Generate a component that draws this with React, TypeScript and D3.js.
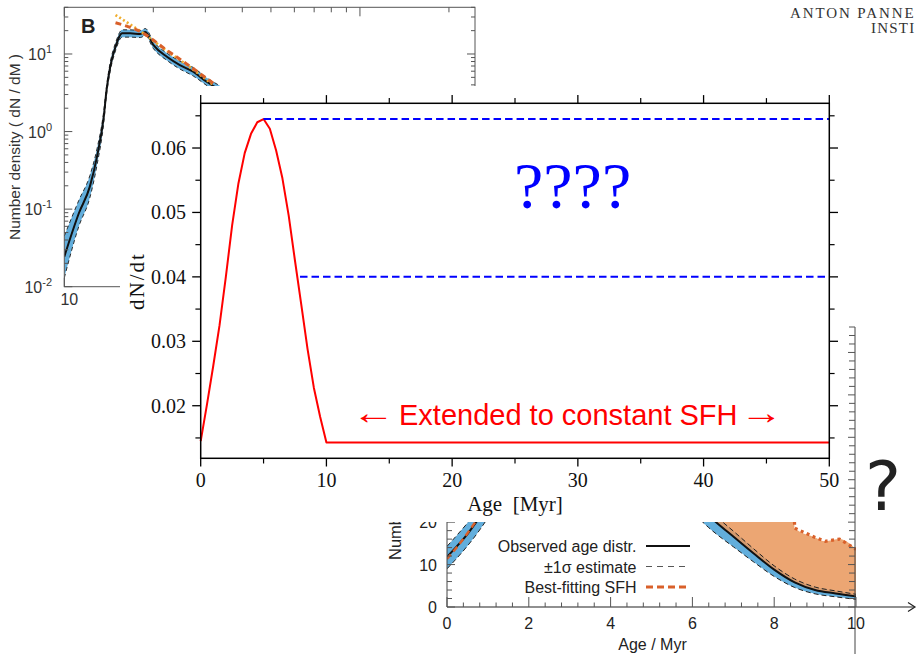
import React from "react";
import * as d3 from "d3";

// ---------------- Main chart (SFH sketch) ----------------
const sfhAges = [0, 0.5, 1, 1.5, 2, 2.5, 3, 3.5, 4, 4.5, 5, 5.5, 6, 6.5, 7, 7.5, 8, 8.5, 9, 9.5, 10, 50];
const sfhRates = [0.0145, 0.0202, 0.0262, 0.0325, 0.04, 0.048, 0.0545, 0.0592, 0.0622, 0.064, 0.0645, 0.063, 0.0596, 0.0553, 0.0495, 0.0425, 0.0357, 0.0288, 0.0228, 0.0183, 0.0143, 0.0143];
const guessStartAges = [5, 7.9];
const guessEndAges = [50, 50];
const guessRates = [0.0645, 0.04];
const ageTicks = [0, 10, 20, 30, 40, 50];
const ageMinorTicks = [5, 15, 25, 35, 45];
const rateTicks = [0.02, 0.03, 0.04, 0.05, 0.06];
const rateMinorTicks = [0.015, 0.025, 0.035, 0.045, 0.055, 0.065];

// ---------------- Background panel B (mass function) ----------------
const massValues = [10, 11.2, 12.2, 12.9, 13.6, 13.9, 14.3, 14.9, 15.7, 16.7, 18.1, 18.8, 20.0, 22.3, 24.6, 27.3, 30.4, 33.6];
const densityObs = [0.0244, 0.0885, 0.195, 0.475, 1.56, 3.44, 6.86, 12.4, 18.5, 18.5, 18.1, 19.2, 13.1, 9.15, 7.2, 5.9, 4.35, 3.44];
const densityLow = [0.013, 0.06, 0.14, 0.37, 1.3, 3.0, 6.0, 11.0, 16.5, 16.5, 16.3, 17.3, 11.8, 8.2, 6.4, 5.2, 3.9, 3.0];
const densityHigh = [0.045, 0.13, 0.27, 0.6, 1.85, 3.9, 7.8, 13.9, 20.5, 20.5, 20.1, 21.3, 14.6, 10.2, 8.1, 6.7, 4.9, 3.9];
const fitGoldMass = [14.9, 18.5, 22, 26, 31.9];
const fitGoldDensity = [31.8, 18.5, 11.3, 7.2, 4.0];
const fitRedMass = [14.9, 18.5, 22, 26, 31.9];
const fitRedDensity = [25.3, 18.5, 11.5, 7.4, 4.2];
const tlYLabels = [
  { v: 10, exp: "1" },
  { v: 1, exp: "0" },
  { v: 0.1, exp: "-1" },
  { v: 0.01, exp: "-2" },
];

// ---------------- Background panel (age distribution) ----------------
const brAgesLeft = [0, 0.25, 0.5, 0.75, 1.0];
const brObsLeft = [11.8, 14.4, 17.2, 20.5, 24];
const brLowLeft = [9.0, 11.6, 14.4, 17.5, 21];
const brHighLeft = [14.3, 17.0, 19.8, 23.0, 26.5];
const brFitLeft = [11.3, 14.2, 17.4, 20.8, 24.4];
const brAgesRight = [6.2, 6.4, 6.6, 7.0, 7.5, 8.0, 8.5, 9.0, 9.5, 10.0];
const brObsRight = [23.5, 21.5, 19.8, 16.6, 12.6, 8.8, 5.8, 4.0, 3.2, 2.5];
const brLowRight = [20.5, 18.7, 17.1, 14.2, 10.6, 7.2, 4.6, 3.1, 2.4, 1.8];
const brHighRight = [25.2, 23.0, 21.2, 17.9, 13.7, 9.7, 6.6, 4.7, 3.8, 3.0];
const brFillAges = [6.4, 6.6, 7.0, 7.5, 8.0, 8.45, 8.5, 9.0, 9.25, 9.6, 10.0];
const brFillLow = [21.5, 19.8, 16.6, 12.6, 8.8, 6.0, 5.8, 4.0, 3.6, 3.1, 2.5];
const brFillHigh = [40, 40, 40, 40, 40, 40, 18.6, 16.4, 15.5, 16.0, 13.6];
const brXTickLabels = [0, 2, 4, 6, 8, 10];
const brYTickLabels = [0, 10, 20];
const legendLabels = ["Observed age distr.", "\u00b11\u03c3 estimate", "Best-fitting SFH"];

const SERIF = '"Liberation Serif", "Times New Roman", serif';
const SANS = '"Liberation Sans", Arial, Helvetica, sans-serif';

export default function App() {
  // ---- scales
  const x = d3.scaleLinear().domain([0, 50]).range([200.7, 829.3]);
  const y = d3.scaleLinear().domain([0.01184, 0.06694]).range([458.3, 103.3]);
  const xTL = d3.scaleLog().domain([10, 245]).range([64.3, 475]);
  const yTL = d3.scaleLog().domain([0.01, 40]).range([286.7, 7.3]);
  const xBR = d3.scaleLinear().domain([0, 10]).range([447, 856]);
  const yBR = d3.scaleLinear().domain([0, 66]).range([607, 327]);

  // ---- main shapes
  const sfhLine = d3
    .line<number>()
    .x((_, i) => x(sfhAges[i]))
    .y((d) => y(d))(sfhRates) as string;

  // ---- panel B shapes
  const tlBand = d3
    .area<number>()
    .curve(d3.curveMonotoneX)
    .x((_, i) => xTL(massValues[i]))
    .y0((_, i) => yTL(densityLow[i]))
    .y1((_, i) => yTL(densityHigh[i]))(massValues) as string;
  const mkTL = (xs: number[], ys: number[]) =>
    d3
      .line<number>()
      .curve(d3.curveMonotoneX)
      .x((_, i) => xTL(xs[i]))
      .y((d) => yTL(d))(ys) as string;
  const tlYTicks: { v: number; major: boolean }[] = [];
  [-2, -1, 0, 1].forEach((dd) => {
    for (let k = 1; k <= 9; k++) {
      const v = k * Math.pow(10, dd);
      if (v <= 40) tlYTicks.push({ v, major: k === 1 });
    }
  });
  const tlXTicks: { v: number; major: boolean }[] = [];
  [1, 2].forEach((dd) => {
    for (let k = 1; k <= 9; k++) {
      const v = k * Math.pow(10, dd);
      if (v <= 245) tlXTicks.push({ v, major: k === 1 });
    }
  });

  // ---- age-distribution panel shapes
  const brArea = (xs: number[], lo: number[], hi: number[]) =>
    d3
      .area<number>()
      .curve(d3.curveMonotoneX)
      .x((_, i) => xBR(xs[i]))
      .y0((_, i) => yBR(lo[i]))
      .y1((_, i) => yBR(hi[i]))(xs) as string;
  const brLine = (xs: number[], ys: number[], curve = true) =>
    d3
      .line<number>()
      .curve(curve ? d3.curveMonotoneX : d3.curveLinear)
      .x((_, i) => xBR(xs[i]))
      .y((d) => yBR(d))(ys) as string;
  const brXTicks = d3.range(0, 10.0001, 0.4);
  const brYTicks = d3.range(0, 66.001, 2);
  const dottedStart = brFillAges.findIndex((a) => a >= 8.45);
  const fillEdgeAges = brFillAges.slice(dottedStart);
  const fillEdgeVals = brFillHigh.slice(dottedStart);

  return (
    <svg
      width={917}
      height={654}
      viewBox="0 0 917 654"
      style={{ position: "absolute", left: 0, top: 0, background: "#fff" }}
    >
      <defs>
        <clipPath id="clipTL">
          <rect x={64.3} y={7.3} width={410.7} height={279.4} />
        </clipPath>
        <clipPath id="clipBR">
          <rect x={447} y={327} width={409} height={280} />
        </clipPath>
      </defs>
      <rect x={0} y={0} width={917} height={654} fill="#fff" />

      {/* ================= Panel B (background) ================= */}
      <g>
        <g clipPath="url(#clipTL)">
          <path d={tlBand} fill="#62aedc" />
          <path d={mkTL(massValues, densityLow)} fill="none" stroke="#1a1a1a" strokeWidth={0.9} strokeDasharray="4,3" />
          <path d={mkTL(massValues, densityHigh)} fill="none" stroke="#1a1a1a" strokeWidth={0.9} strokeDasharray="4,3" />
          <path d={mkTL(massValues, densityObs)} fill="none" stroke="#111" strokeWidth={2} />
          <path d={mkTL(fitGoldMass, fitGoldDensity)} fill="none" stroke="#f0ad2c" strokeWidth={2.6} strokeDasharray="2,2.5" />
          <path d={mkTL(fitRedMass, fitRedDensity)} fill="none" stroke="#d9602a" strokeWidth={3} strokeDasharray="6,4" />
        </g>
        <rect x={64.3} y={7.3} width={410.7} height={279.4} fill="none" stroke="#555" strokeWidth={1} />
        {tlYTicks.map((t, i) => (
          <g key={"tly" + i} stroke="#555" strokeWidth={1}>
            <line x1={64.3} x2={64.3 + (t.major ? 8 : 4)} y1={yTL(t.v)} y2={yTL(t.v)} />
            <line x1={475} x2={475 - (t.major ? 8 : 4)} y1={yTL(t.v)} y2={yTL(t.v)} />
          </g>
        ))}
        {tlXTicks.map((t, i) => (
          <g key={"tlx" + i} stroke="#555" strokeWidth={1}>
            <line x1={xTL(t.v)} x2={xTL(t.v)} y1={7.3} y2={7.3 + (t.major ? 9 : 5)} />
            <line x1={xTL(t.v)} x2={xTL(t.v)} y1={286.7} y2={286.7 - (t.major ? 9 : 5)} />
          </g>
        ))}
        {tlYLabels.map((l) => (
          <text key={"tll" + l.exp} x={52} y={yTL(l.v) + 6} textAnchor="end" fontFamily={SANS} fontSize={16} fill="#333">
            10
            <tspan dy={-7} fontSize={11}>
              {l.exp}
            </tspan>
          </text>
        ))}
        <text x={xTL(10) + 5} y={305} textAnchor="middle" fontFamily={SANS} fontSize={16} fill="#333">
          10
        </text>
        <text
          transform="translate(19.5,147) rotate(-90)"
          textAnchor="middle"
          fontFamily={SANS}
          fontSize={15.5}
          fill="#333"
        >
          Number density ( dN / dM )
        </text>
        <text x={81} y={33} fontFamily={SANS} fontWeight="bold" fontSize={20} fill="#222">
          B
        </text>
      </g>

      {/* ================= Age distribution panel (background) ================= */}
      <g>
        <g clipPath="url(#clipBR)">
          <path d={brArea(brAgesLeft, brLowLeft, brHighLeft)} fill="#62aedc" />
          <path d={brArea(brAgesRight, brLowRight, brHighRight)} fill="#62aedc" />
          <path d={brArea(brFillAges, brFillLow, brFillHigh)} fill="#e9975a" fillOpacity={0.85} />
          <path d={brLine(brAgesLeft, brLowLeft)} fill="none" stroke="#222" strokeWidth={1} strokeDasharray="5,3" />
          <path d={brLine(brAgesLeft, brHighLeft)} fill="none" stroke="#222" strokeWidth={1} strokeDasharray="5,3" />
          <path d={brLine(brAgesRight, brLowRight)} fill="none" stroke="#222" strokeWidth={1} strokeDasharray="5,3" />
          <path d={brLine(brAgesRight, brHighRight)} fill="none" stroke="#222" strokeWidth={1} strokeDasharray="5,3" />
          <path d={brLine(brAgesLeft, brObsLeft)} fill="none" stroke="#111" strokeWidth={2} />
          <path d={brLine(brAgesRight, brObsRight)} fill="none" stroke="#111" strokeWidth={2} />
          <path d={brLine(brAgesLeft, brFitLeft)} fill="none" stroke="#d9602a" strokeWidth={2.5} strokeDasharray="6,4" />
          <path d={brLine(fillEdgeAges, fillEdgeVals, false)} fill="none" stroke="#d9602a" strokeWidth={3.2} strokeDasharray="3,3.5" />
        </g>
        {/* axes */}
        <line x1={447} x2={447} y1={327} y2={607} stroke="#444" strokeWidth={1} />
        <line x1={447} x2={914} y1={607} y2={607} stroke="#222" strokeWidth={1.2} />
        <polyline points="908,602.5 915,607 908,611.5" fill="none" stroke="#222" strokeWidth={1.2} />
        <line x1={855} x2={855} y1={327} y2={654} stroke="#444" strokeWidth={1} />
        {brXTicks.map((v, i) => {
          const major = Math.abs(v / 2 - Math.round(v / 2)) < 1e-6;
          return (
            <line key={"brx" + i} x1={xBR(v)} x2={xBR(v)} y1={607} y2={607 - (major ? 10 : 4.5)} stroke="#555" strokeWidth={1} />
          );
        })}
        {brYTicks.map((v, i) => {
          const major = v % 10 === 0;
          return (
            <g key={"bry" + i} stroke="#555" strokeWidth={1}>
              <line x1={447} x2={447 + (major ? 8 : 5)} y1={yBR(v)} y2={yBR(v)} />
              <line x1={855} x2={855 - (major ? 7 : 6)} y1={yBR(v)} y2={yBR(v)} />
            </g>
          );
        })}
        {brXTickLabels.map((v) => (
          <text key={"brxl" + v} x={xBR(v)} y={628.5} textAnchor="middle" fontFamily={SANS} fontSize={16} fill="#222">
            {v}
          </text>
        ))}
        {brYTickLabels.map((v) => (
          <text key={"bryl" + v} x={437} y={yBR(v) + 6} textAnchor="end" fontFamily={SANS} fontSize={16} fill="#222">
            {v}
          </text>
        ))}
        <text x={652.5} y={650} textAnchor="middle" fontFamily={SANS} fontSize={16} fill="#222">
          Age / Myr
        </text>
        <text transform="translate(401,560) rotate(-90)" textAnchor="start" fontFamily={SANS} fontSize={16.5} fill="#222">
          Number of stars
        </text>
        {legendLabels.map((l, i) => (
          <g key={"leg" + i}>
            <text x={636.5} y={552 + i * 20.5} textAnchor="end" fontFamily={SANS} fontSize={16} fill="#222">
              {l}
            </text>
            <line
              x1={646}
              x2={690}
              y1={546 + i * 20.5}
              y2={546 + i * 20.5}
              stroke={i === 0 ? "#111" : i === 1 ? "#444" : "#d9602a"}
              strokeWidth={i === 0 ? 2.2 : i === 1 ? 0.9 : 3}
              strokeDasharray={i === 0 ? undefined : i === 1 ? "6,5" : "7,4"}
            />
          </g>
        ))}
      </g>

      {/* top-right institute text (only the part inside the frame) */}
      <text x={790} y={18} fontFamily={SERIF} fontSize={15} letterSpacing={1.9} fill="#333">
        ANTON PANNE
      </text>
      <text x={871} y={33} fontFamily={SERIF} fontSize={15} letterSpacing={1.2} fill="#333">
        INSTI
      </text>

      {/* big question mark */}
      <text x={883} y={510} textAnchor="middle" fontFamily='"DejaVu Sans", sans-serif' fontSize={68} fill="#222">
        ?
      </text>

      {/* ================= Main chart ================= */}
      <rect x={120} y={86} width={726} height={436} fill="#fff" />
      <g>
        {/* data */}
        <path d={sfhLine} fill="none" stroke="#ff0000" strokeWidth={2} strokeLinejoin="round" />
        {guessRates.map((r, i) => (
          <line
            key={"g" + i}
            x1={x(guessStartAges[i])}
            x2={x(guessEndAges[i])}
            y1={y(r)}
            y2={y(r)}
            stroke="#0000ff"
            strokeWidth={2}
            strokeDasharray="7.5,4"
          />
        ))}
        {/* frame */}
        <rect x={x(0)} y={y.range()[1]} width={x(50) - x(0)} height={y.range()[0] - y.range()[1]} fill="none" stroke="#000" strokeWidth={1.5} />
        {ageTicks.map((t) => (
          <g key={"xt" + t} stroke="#000" strokeWidth={1.3}>
            <line x1={x(t)} x2={x(t)} y1={458.3} y2={466.5} />
            <line x1={x(t)} x2={x(t)} y1={103.3} y2={95.1} />
          </g>
        ))}
        {ageMinorTicks.map((t) => (
          <g key={"xm" + t} stroke="#000" strokeWidth={1.2}>
            <line x1={x(t)} x2={x(t)} y1={458.3} y2={463.5} />
            <line x1={x(t)} x2={x(t)} y1={103.3} y2={98.1} />
          </g>
        ))}
        {rateTicks.map((t) => (
          <g key={"yt" + t} stroke="#000" strokeWidth={1.3}>
            <line x1={200.7} x2={192.2} y1={y(t)} y2={y(t)} />
            <line x1={829.3} x2={838} y1={y(t)} y2={y(t)} />
          </g>
        ))}
        {rateMinorTicks.map((t) => (
          <g key={"ym" + t} stroke="#000" strokeWidth={1.2}>
            <line x1={200.7} x2={195.4} y1={y(t)} y2={y(t)} />
            <line x1={829.3} x2={834.6} y1={y(t)} y2={y(t)} />
          </g>
        ))}
        {ageTicks.map((t) => (
          <text key={"xl" + t} x={x(t)} y={487} textAnchor="middle" fontFamily={SERIF} fontSize={20} fill="#111">
            {t}
          </text>
        ))}
        {rateTicks.map((t) => (
          <text key={"yl" + t} x={186} y={y(t) + 7} textAnchor="end" fontFamily={SERIF} fontSize={20} fill="#111">
            {t.toFixed(2)}
          </text>
        ))}
        <text x={515} y={511} textAnchor="middle" fontFamily={SERIF} fontSize={21} fill="#111" style={{ whiteSpace: "pre" }}>
          {"Age  [Myr]"}
        </text>
        <text transform="translate(144,281) rotate(-90)" textAnchor="middle" fontFamily={SERIF} fontSize={21} letterSpacing={2} fill="#111">
          dN/dt
        </text>
        {/* annotations */}
        <text x={514} y={208} fontFamily={SERIF} fontSize={66} fill="#0000ff">
          ????
        </text>
        <text transform="translate(352,423.5) scale(1.26,1)" fontFamily={SERIF} fontSize={34} fill="#ff0000">
          {"\u2190"}
        </text>
        <text x={399} y={424.5} fontFamily={SANS} fontSize={29} fill="#ff0000">
          Extended to constant SFH
        </text>
        <text transform="translate(740,423.5) scale(1.26,1)" fontFamily={SERIF} fontSize={34} fill="#ff0000">
          {"\u2192"}
        </text>
      </g>
    </svg>
  );
}
